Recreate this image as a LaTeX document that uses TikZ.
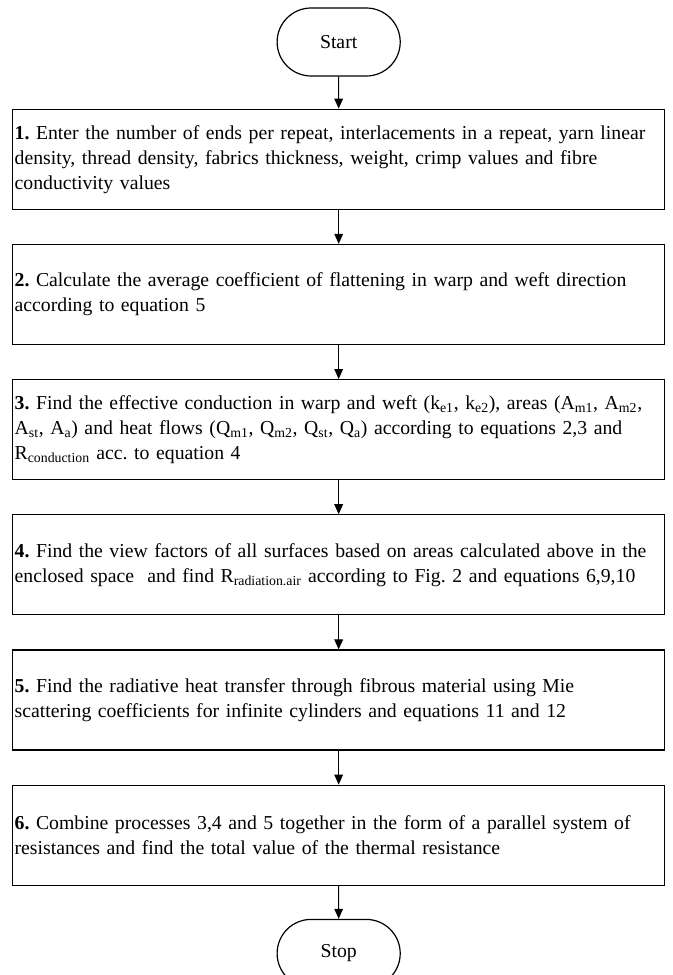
\documentclass[tikz,border=0pt]{standalone}
\usepackage{fontspec}
\setmainfont{Liberation Serif}
\usetikzlibrary{shapes.misc,arrows.meta,positioning}
\tikzset{
  terminal/.style={
    rounded rectangle, draw, line width=0.9pt, align=center,
    font=\fontsize{14.8}{18.75}\selectfont,
    minimum width=99pt, minimum height=51pt},
  paso/.style={
    rectangle, draw, line width=0.9pt, align=left,
    font=\fontsize{14.8}{18.75}\selectfont, text width=486pt,
    inner xsep=1.5pt, minimum height=75pt},
  flecha/.style={-{Triangle[length=7.5pt,width=6.5pt]}, line width=0.8pt}
}
\begin{document}
\frenchspacing
\begin{tikzpicture}[node distance=25.5pt]

\useasboundingbox (0,0) rectangle (504pt,-731.25pt);

% Inicio
\node[terminal] (start) at (254pt,-31.5pt) {Start};

% Pasos
\node[paso, below=24pt of start] (p1) {\textbf{1.} Enter the number of ends per repeat, interlacements in a repeat, yarn linear\\
density, thread density, fabrics thickness, weight, crimp values and fibre\\
conductivity values};
\node[paso, below=of p1] (p2) {\textbf{2.} Calculate the average coefficient of flattening in warp and weft direction\\
according to equation 5};
\node[paso, below=of p2] (p3) {\textbf{3.} Find the effective conduction in warp and weft (k\textsubscript{e1}, k\textsubscript{e2}), areas (A\textsubscript{m1}, A\textsubscript{m2},\\
A\textsubscript{st}, A\textsubscript{a}) and heat flows (Q\textsubscript{m1}, Q\textsubscript{m2}, Q\textsubscript{st}, Q\textsubscript{a}) according to equations 2,3 and\\
R\textsubscript{conduction} acc. to equation 4};
\node[paso, below=of p3] (p4) {\textbf{4.} Find the view factors of all surfaces based on areas calculated above in the\\
enclosed space\ \ and find R\textsubscript{radiation.air} according to Fig. 2 and equations 6,9,10};
\node[paso, below=of p4] (p5) {\textbf{5.} Find the radiative heat transfer through fibrous material using Mie\\
scattering coefficients for infinite cylinders and equations 11 and 12};
\node[paso, below=of p5] (p6) {\textbf{6.} Combine processes 3,4 and 5 together in the form of a parallel system of\\
resistances and find the total value of the thermal resistance};

% Fin
\node[terminal, below=24.75pt of p6] (stop) {Stop};

\draw[flecha] (start) -- (p1);
\draw[flecha] (p1) -- (p2);
\draw[flecha] (p2) -- (p3);
\draw[flecha] (p3) -- (p4);
\draw[flecha] (p4) -- (p5);
\draw[flecha] (p5) -- (p6);
\draw[flecha] (p6) -- (stop);

\end{tikzpicture}
\end{document}
